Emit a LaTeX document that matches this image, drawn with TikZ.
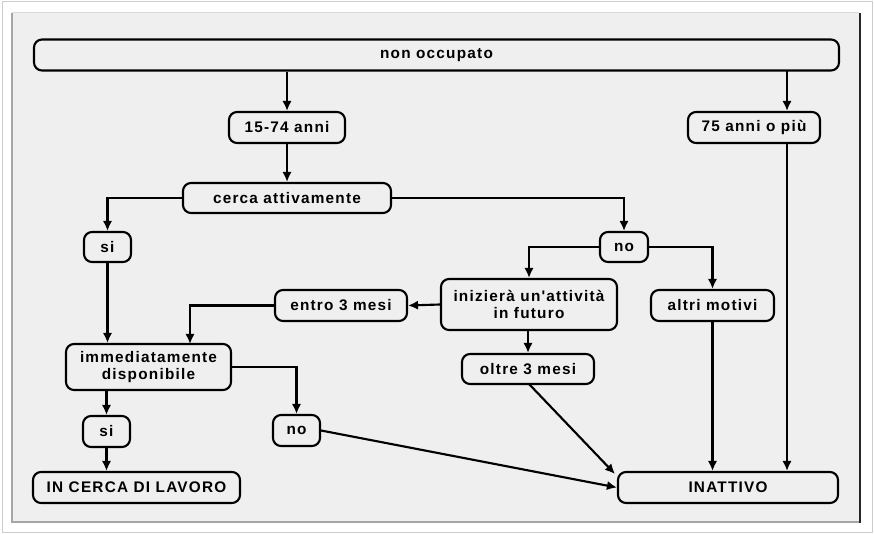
\documentclass[tikz,border=0pt]{standalone}
\usepackage{fontspec}
\setmainfont{Liberation Sans}
\newfontfamily\boxfont{Liberation Sans}[LetterSpace=8]
\usetikzlibrary{arrows.meta}
\definecolor{panel}{HTML}{EFEFEF}
\begin{document}
\begin{tikzpicture}[x=0.75pt,y=-0.75pt,
  box/.style={draw=black,line width=1.6pt,rounded corners=6pt,fill=panel,inner sep=0pt,
    align=center,font=\boxfont\bfseries\fontsize{11.5}{12.5}\selectfont,minimum height=23.25pt},
  arr/.style={line width=1.6pt,-{Latex[length=7.5pt,width=7pt]}}]
\useasboundingbox (0,0) rectangle (874,534);
\fill[white] (0,0) rectangle (874,534);
\draw[gray!40,line width=0.75pt] (2,2) rectangle (872,532);
\fill[panel] (12,13) rectangle (859,522);
\draw[gray!70,line width=1pt] (12,13) -- (12,522) -- (859,522);
\draw[gray!30,line width=0.75pt] (12,13) -- (859,13);
\draw[black!85,line width=1.8pt] (860,13) -- (860,523);

\node[box,minimum width=603.75pt] (nonocc) at (436.5,55) {non occupato};
\node[box,minimum width=87pt] (a1574) at (287,127.5) {15-74 anni};
\node[box,minimum width=99pt] (a75) at (754,127.5) {75 anni o più};
\node[box,minimum width=156pt,minimum height=22.5pt] (cerca) at (287,198) {cerca attivamente};
\node[box,minimum width=35.25pt,minimum height=22.5pt] (si1) at (107.5,247) {si};
\node[box,minimum width=36pt,minimum height=22.5pt] (no1) at (624,247) {no};
\node[box,minimum width=99pt] (entro) at (341,305.5) {entro 3 mesi};
\node[box,minimum width=132pt,minimum height=38.25pt] (iniz) at (529,304.5) {inizierà un'attività\\in futuro};
\node[box,minimum width=92.25pt] (altri) at (712.5,305.5) {altri motivi};
\node[box,minimum width=123.75pt,minimum height=34.5pt] (immed) at (148.5,367) {immediatamente\\disponibile};
\node[box,minimum width=99pt,minimum height=22.5pt] (oltre) at (528,369) {oltre 3 mesi};
\node[box,minimum width=35.25pt] (si2) at (106.5,431.5) {si};
\node[box,minimum width=35.25pt] (no2) at (296.5,430.5) {no};
\node[box,minimum width=155.25pt] (cercalav) at (136.5,487.5) {IN CERCA DI LAVORO};
\node[box,minimum width=165pt] (inatt) at (728,487.5) {INATTIVO};

\draw[arr] (nonocc.south -| a1574) -- (a1574.north);
\draw[arr] (787,70) coordinate (c75) -- (c75 |- a75.north);
\draw[arr] (a1574) -- (cerca);
\draw[arr] (cerca.west) -| (si1.north);
\draw[arr] (cerca.east) -| (no1.north);
\draw[arr] (si1.south) -- (immed.north -| si1);
\draw[arr] (no1.west) -| (iniz.north);
\draw[arr] (no1.east) -| (altri.north);
\draw[arr] (iniz.west) -- (entro.east);
\draw[arr] (entro.west) -| (190,344) coordinate (c1);
\draw[arr] (iniz.south -| oltre) -- (oltre.north);
\draw[arr] (immed.east) -| (no2.north);
\draw[arr] (immed.south -| si2) -- (si2.north);
\draw[arr] (si2.south) -- (si2.south |- cercalav.north);
\draw[arr] (no2.east) -- (inatt.west);
\draw[arr] (529,384) coordinate (c2) -- (615,474) coordinate (c3);
\draw[arr] (altri.south) -- (altri.south |- inatt.north);
\draw[arr] (a75.south -| c75) -- (c75 |- inatt.north);
\end{tikzpicture}
\end{document}
